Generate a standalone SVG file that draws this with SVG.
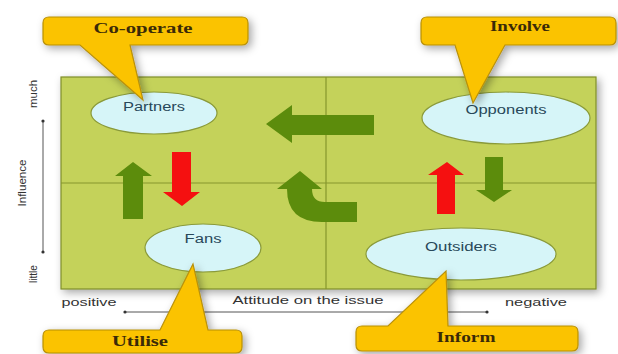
<svg xmlns="http://www.w3.org/2000/svg" width="618" height="354" viewBox="0 0 618 354">
<defs>
<filter id="sh" x="-20%" y="-30%" width="140%" height="160%">
<feDropShadow dx="3" dy="3" stdDeviation="4" flood-color="#000" flood-opacity="0.35"/>
</filter>
<style>
.ell{fill:#d6f5f8;stroke:#8a9a3a;stroke-width:1.2}
.lbl{font-family:"Liberation Sans",Arial,sans-serif;font-size:12px;fill:#28485a;text-anchor:middle}
.call{fill:#fbc300;stroke:#b8900a;stroke-width:1.2;filter:url(#sh)}
.ctx{font-family:"Liberation Serif","Times New Roman",serif;font-weight:bold;font-size:15px;fill:#3a2a08;text-anchor:middle}
.ax{font-family:"Liberation Sans",Arial,sans-serif;font-size:11px;fill:#333;text-anchor:middle}
.grn{fill:#5c8c0c}
.red{fill:#f51010}
.axl{stroke:#555;stroke-width:1}
</style>
</defs>
<rect width="618" height="354" fill="#fff"/>
<g id="grid">
<rect x="61" y="77" width="535" height="212" fill="#c4d25a" stroke="#7f8e2a" stroke-width="1.2" filter="url(#sh)"/>
<line x1="326" y1="77" x2="326" y2="289" stroke="#86962c" stroke-width="1.2"/>
<line x1="61" y1="183" x2="596" y2="183" stroke="#86962c" stroke-width="1.2"/>
</g>
<g id="axes">
<line class="axl" x1="43" y1="121" x2="43" y2="252"/>
<circle cx="43" cy="121" r="1.6" fill="#333"/>
<circle cx="43" cy="252" r="1.6" fill="#333"/>
<text class="ax" transform="translate(37,94) rotate(-90)" textLength="28" lengthAdjust="spacingAndGlyphs">much</text>
<text class="ax" transform="translate(26,183) rotate(-90)" textLength="47" lengthAdjust="spacingAndGlyphs">Influence</text>
<text class="ax" transform="translate(37,274) rotate(-90)" textLength="18" lengthAdjust="spacingAndGlyphs">little</text>
<line class="axl" x1="125" y1="312" x2="487" y2="312"/>
<circle cx="125" cy="312" r="1.6" fill="#333"/>
<circle cx="487" cy="312" r="1.6" fill="#333"/>
<text class="ax" x="89" y="306" textLength="55" lengthAdjust="spacingAndGlyphs">positive</text>
<text class="ax" x="308" y="304" textLength="151" lengthAdjust="spacingAndGlyphs">Attitude on the issue</text>
<text class="ax" x="536" y="306" textLength="62" lengthAdjust="spacingAndGlyphs">negative</text>
</g>
<g id="connectors">
<path class="grn" d="M266 124 L292 105 L292 115 L374 115 L374 135 L292 135 L292 143 Z"/>
<path class="grn" d="M133 162 L152 176 L143 176 L143 219 L123 219 L123 176 L115 176 Z"/>
<path class="red" d="M172 152 L191 152 L191 192 L200 192 L182 206 L163 192 L172 192 Z"/>
<path class="grn" d="M357 202 L325 202 Q312 202 312 189 L322 189 L300 171 L277 189 L287 189 Q287 222 322 222 L357 222 Z"/>
<path class="red" d="M447 162 L464 175 L455 175 L455 214 L437 214 L437 175 L428 175 Z"/>
<path class="grn" d="M485 157 L503 157 L503 190 L512 190 L494 202 L476 190 L485 190 Z"/>
</g>
<g id="partners">
<ellipse class="ell" cx="154" cy="113" rx="63" ry="21"/>
<text class="lbl" x="154" y="111" textLength="62" lengthAdjust="spacingAndGlyphs">Partners</text>
</g>
<g id="opponents">
<ellipse class="ell" cx="506" cy="118" rx="84" ry="26"/>
<text class="lbl" x="506" y="114" textLength="81" lengthAdjust="spacingAndGlyphs">Opponents</text>
</g>
<g id="fans">
<ellipse class="ell" cx="203" cy="248" rx="58" ry="24"/>
<text class="lbl" x="203" y="243" textLength="37" lengthAdjust="spacingAndGlyphs">Fans</text>
</g>
<g id="outsiders">
<ellipse class="ell" cx="461" cy="254" rx="95" ry="26"/>
<text class="lbl" x="461" y="251" textLength="72" lengthAdjust="spacingAndGlyphs">Outsiders</text>
</g>
<g id="cooperate">
<path class="call" d="M49 17 H242 Q248 17 248 23 V39 Q248 45 242 45 H130 L143 100 L80 45 H49 Q43 45 43 39 V23 Q43 17 49 17 Z"/>
<text class="ctx" x="143" y="33" textLength="99" lengthAdjust="spacingAndGlyphs">Co-operate</text>
</g>
<g id="involve">
<path class="call" d="M427 17 H610 Q616 17 616 23 V39 Q616 45 610 45 H505 L473 103 L455 45 H427 Q421 45 421 39 V23 Q421 17 427 17 Z"/>
<text class="ctx" x="520" y="31" textLength="60" lengthAdjust="spacingAndGlyphs">Involve</text>
</g>
<g id="utilise">
<path class="call" d="M49 330 H160 L193 264 L208 330 H236 Q242 330 242 336 V347 Q242 353 236 353 H49 Q43 353 43 347 V336 Q43 330 49 330 Z"/>
<text class="ctx" x="140" y="346" textLength="56" lengthAdjust="spacingAndGlyphs">Utilise</text>
</g>
<g id="inform">
<path class="call" d="M362 326 H388 L446 271 L448 326 H572 Q578 326 578 332 V345 Q578 351 572 351 H362 Q356 351 356 345 V332 Q356 326 362 326 Z"/>
<text class="ctx" x="466" y="342" textLength="59" lengthAdjust="spacingAndGlyphs">Inform</text>
</g>
</svg>
